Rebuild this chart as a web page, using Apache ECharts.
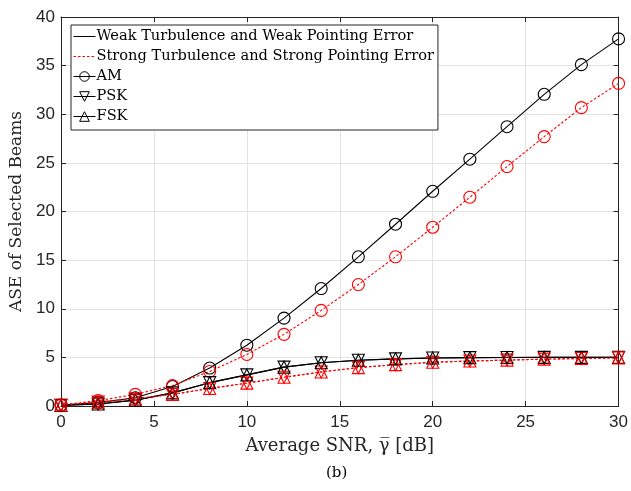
<!DOCTYPE html>
<html>
<head>
<meta charset="utf-8">
<script src="https://cdn.jsdelivr.net/npm/echarts@6/dist/echarts.min.js"></script>
<style>html,body{margin:0;padding:0;background:#fff;}#c{width:631px;height:491px;}</style>
</head>
<body>
<div id="c"></div>
<script>
// ---- data ----
const snr = [0, 2, 4, 6, 8, 10, 12, 14, 16, 18, 20, 22, 24, 26, 28, 30];
const amWeak = [0.1, 0.35, 0.85, 2.0, 3.9, 6.25, 9.04, 12.08, 15.34, 18.69, 22.08, 25.38, 28.72, 32.05, 35.1, 37.75];
const amStrong = [0.1, 0.55, 1.2, 2.1, 3.55, 5.3, 7.37, 9.83, 12.49, 15.34, 18.38, 21.47, 24.62, 27.7, 30.68, 33.17];
const pskWeak = [0.05, 0.2, 0.6, 1.35, 2.4, 3.2, 4.0, 4.45, 4.7, 4.85, 4.93, 4.97, 4.99, 5.0, 5.0, 5.0];
const pskStrong = [0.1, 0.4, 0.75, 1.2, 1.8, 2.35, 2.95, 3.5, 3.95, 4.25, 4.5, 4.62, 4.72, 4.82, 4.88, 4.95];
const fskWeak = [0.05, 0.2, 0.6, 1.35, 2.4, 3.2, 4.0, 4.45, 4.7, 4.85, 4.93, 4.97, 4.99, 5.0, 5.0, 5.0];
const fskStrong = [0.1, 0.4, 0.75, 1.2, 1.8, 2.35, 2.95, 3.5, 3.95, 4.25, 4.5, 4.62, 4.72, 4.82, 4.88, 4.95];
const legendNames = ['Weak Turbulence and Weak Pointing Error', 'Strong Turbulence and Strong Pointing Error', 'AM', 'PSK', 'FSK'];
const xTicks = [0, 5, 10, 15, 20, 25, 30];
const yTicks = [0, 5, 10, 15, 20, 25, 30, 35, 40];

const BLACK = '#000000', RED = '#ff0000';
const AX = '#262626';
const serif = '"DejaVu Serif", "Liberation Serif", serif';
const sans = '"Liberation Sans", Arial, sans-serif';
const DASH = [2.5, 2];

function pairs(ys) { return snr.map((x, i) => [x, ys[i]]); }
function mk(name, ys, color, dashed, symbol, rot) {
  return {
    name: name, type: 'line', data: pairs(ys),
    symbol: symbol, symbolSize: 12, symbolRotate: rot || 0,
    lineStyle: { color: color, width: 1.1, type: dashed ? DASH : 'solid' },
    itemStyle: { color: 'rgba(0,0,0,0)', borderColor: color, borderWidth: 1.1 },
    z: 3, animation: false, silent: true
  };
}
const hollow = c => ({ color: 'rgba(0,0,0,0)', borderColor: c, borderWidth: 1 });
const series = [
  mk('amW', amWeak, BLACK, false, 'circle'),
  mk('amS', amStrong, RED, true, 'circle'),
  mk('pskW', pskWeak, BLACK, false, 'triangle', 180),
  mk('pskS', pskStrong, RED, true, 'triangle', 180),
  mk('fskW', fskWeak, BLACK, false, 'triangle'),
  mk('fskS', fskStrong, RED, true, 'triangle'),
  // legend-only series
  { name: legendNames[0], type: 'line', data: [], symbol: 'none', lineStyle: { color: BLACK, width: 1 }, itemStyle: { color: 'rgba(0,0,0,0)', borderWidth: 0 } },
  { name: legendNames[1], type: 'line', data: [], symbol: 'none', lineStyle: { color: RED, width: 1, type: DASH }, itemStyle: { color: 'rgba(0,0,0,0)', borderWidth: 0 } },
  { name: legendNames[2], type: 'line', data: [], symbol: 'circle', symbolSize: 11, lineStyle: { color: BLACK, width: 1 }, itemStyle: hollow(BLACK) },
  { name: legendNames[3], type: 'line', data: [], symbol: 'triangle', symbolRotate: 180, symbolSize: 11, lineStyle: { color: BLACK, width: 1 }, itemStyle: hollow(BLACK) },
  { name: legendNames[4], type: 'line', data: [], symbol: 'triangle', symbolSize: 11, lineStyle: { color: BLACK, width: 1 }, itemStyle: hollow(BLACK) }
];

const noMarker = { color: 'rgba(0,0,0,0)', borderColor: 'rgba(0,0,0,0)', borderWidth: 0 };
const chart = echarts.init(document.getElementById('c'), null, { renderer: 'canvas' });
const gridSplit = { show: true, lineStyle: { color: '#e3e3e3', width: 1 } };
chart.setOption({
  animation: false,
  backgroundColor: '#ffffff',
  grid: { left: 61, right: 2, top: 17, bottom: 85, show: false },
  legend: {
    data: legendNames.map((n, i) => i < 2
      ? { name: n, itemStyle: noMarker, lineStyle: { width: 1 } }
      : { name: n, itemStyle: hollow(BLACK), lineStyle: { width: 1 } }),
    orient: 'vertical', left: 71, top: 25,
    itemWidth: 22, itemHeight: 12, itemGap: 5,
    padding: [4, 4, 6, 2],
    backgroundColor: '#ffffff', borderColor: AX, borderWidth: 1,
    textStyle: { fontFamily: serif, fontSize: 14.6, color: '#000', padding: [0, 0, 0, -4] },
    selectedMode: false
  },
  xAxis: [{
    type: 'value', min: 0, max: 30, interval: 5,
    name: 'Average SNR, \u03B3\u0305 [dB]', nameLocation: 'middle', nameGap: 31,
    nameTextStyle: { fontFamily: serif, fontSize: 18, color: '#262626' },
    axisLine: { show: true, lineStyle: { color: AX, width: 1 } },
    axisTick: { show: true, inside: true, length: 5, lineStyle: { color: AX } },
    axisLabel: { fontFamily: sans, fontSize: 17, color: AX, margin: 8 },
    splitLine: gridSplit
  }, {
    type: 'value', min: 0, max: 30, interval: 5, position: 'top',
    axisLine: { show: true, onZero: false, lineStyle: { color: AX, width: 1 } },
    axisTick: { show: true, inside: true, length: 5, lineStyle: { color: AX } },
    axisLabel: { show: false }, splitLine: { show: false }
  }],
  yAxis: [{
    type: 'value', min: 0, max: 40, interval: 5,
    name: 'ASE of Selected Beams', nameLocation: 'middle', nameGap: 33, nameRotate: 90,
    nameTextStyle: { fontFamily: serif, fontSize: 17, color: '#262626' },
    axisLine: { show: true, lineStyle: { color: AX, width: 1 } },
    axisTick: { show: true, inside: true, length: 5, lineStyle: { color: AX } },
    axisLabel: { fontFamily: sans, fontSize: 17, color: AX, margin: 6 },
    splitLine: gridSplit
  }, {
    type: 'value', min: 0, max: 40, interval: 5, position: 'right',
    axisLine: { show: true, onZero: false, lineStyle: { color: AX, width: 1 } },
    axisTick: { show: true, inside: true, length: 5, lineStyle: { color: AX } },
    axisLabel: { show: false }, splitLine: { show: false }
  }],
  graphic: [{
    type: 'text', left: 326, top: 466,
    style: { text: '(b)', font: '15px ' + serif, fill: '#000' }
  }],
  series: series
});
</script>
</body>
</html>
